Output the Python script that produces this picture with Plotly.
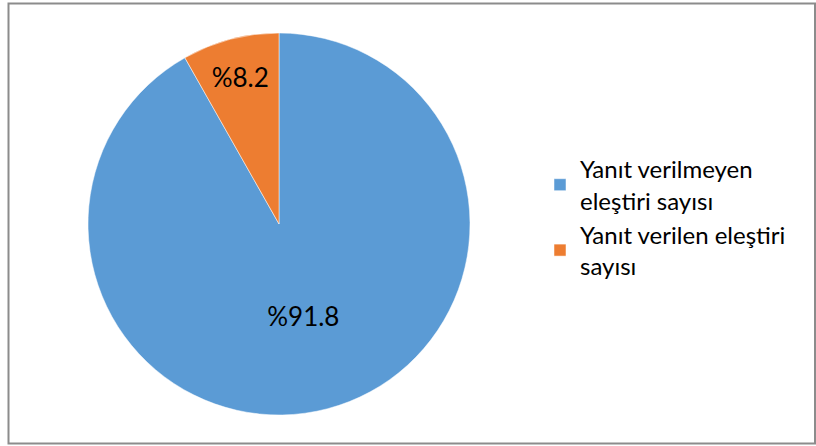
import plotly.graph_objects as go

labels = ["Yanıt verilmeyen<br>eleştiri sayısı", "Yanıt verilen eleştiri<br>sayısı"]
values = [91.8, 8.2]
text_labels = ["%91.8", "%8.2"]
colors = ["#5B9BD5", "#ED7D31"]

W, H = 816, 446
fig = go.Figure(go.Pie(
    labels=labels, values=values, text=text_labels,
    texttemplate="%{text}", textposition="inside", insidetextorientation="horizontal",
    sort=False, direction="clockwise", rotation=0,
    marker=dict(colors=colors, line=dict(color="white", width=0.5)),
    textfont=dict(family="Lato, Open Sans, sans-serif", size=26, color="black"),
    domain=dict(x=[88 / W, 470 / W], y=[1 - 415 / H, 1 - 33 / H]),
    hoverinfo="skip",
))
fig.update_layout(
    width=W, height=H, margin=dict(l=0, r=0, t=0, b=0),
    paper_bgcolor="white", plot_bgcolor="white",
    font=dict(family="Lato, Open Sans, sans-serif", color="black"),
    legend=dict(x=540 / W, y=1 - 147 / H, xanchor="left", yanchor="top",
                font=dict(size=24), itemwidth=30),
    shapes=[dict(type="rect", xref="paper", yref="paper",
                 x0=8.5 / W, x1=815 / W, y0=1 - 443.5 / H, y1=1 - 3.5 / H,
                 line=dict(color="#8c8c8c", width=2))],
)
fig.write_html("out.html", config={"displayModeBar": False},
               post_script="document.body.style.margin='0';")
